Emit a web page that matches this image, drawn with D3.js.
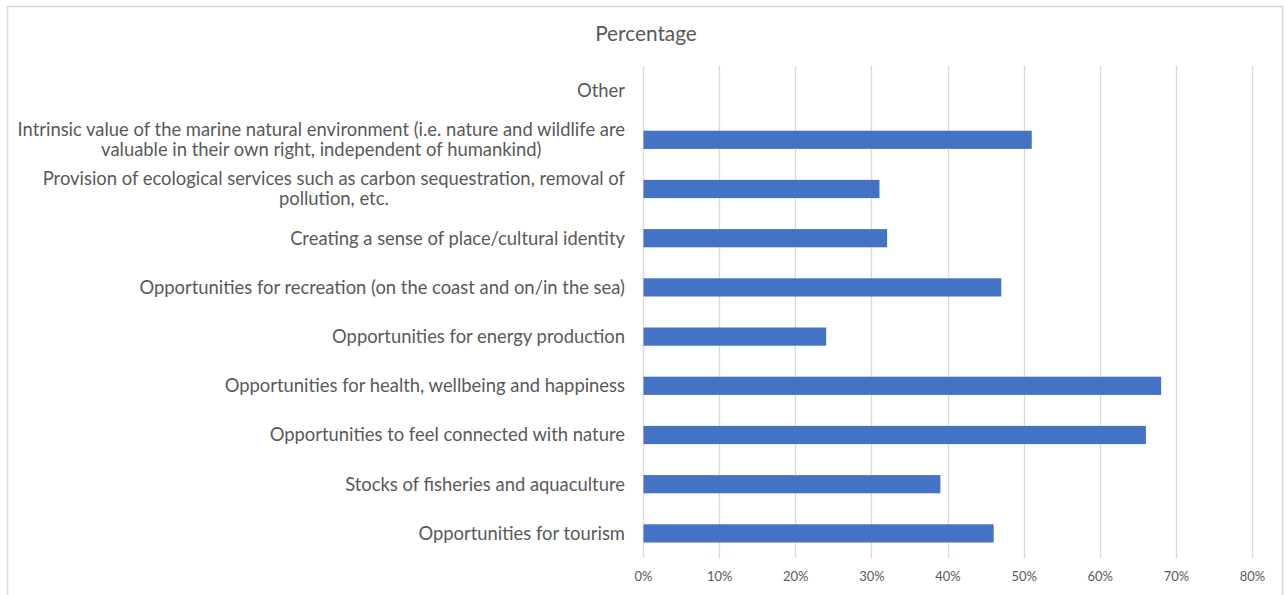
<!DOCTYPE html>
<html>
<head>
<meta charset="utf-8">
<script src="https://cdn.jsdelivr.net/npm/d3@7/dist/d3.min.js"></script>
<style>
  html, body { margin: 0; padding: 0; background: #fff; }
  svg { display: block; }
</style>
</head>
<body>
<svg id="chart" width="1284" height="595"></svg>
<script>
// Categories, listed top to bottom
const categories = [
  "Other",
  "Intrinsic value of the marine natural environment (i.e. nature and wildlife are|valuable in their own right, independent of humankind)",
  "Provision of ecological services such as carbon sequestration, removal of|pollution, etc.",
  "Creating a sense of place/cultural identity",
  "Opportunities for recreation (on the coast and on/in the sea)",
  "Opportunities for energy production",
  "Opportunities for health, wellbeing and happiness",
  "Opportunities to feel connected with nature",
  "Stocks of fisheries and aquaculture",
  "Opportunities for tourism"
];
// Share of respondents (%)
const values = [0, 51, 31, 32, 47, 24, 68, 66, 39, 46];
// Axis ticks (%)
const tickValues = [0, 10, 20, 30, 40, 50, 60, 70, 80];

const svg = d3.select("#chart");
const font = "Lato, 'Open Sans', sans-serif";

// Outer frame
svg.append("rect")
  .attr("x", 7.5).attr("y", 6.5)
  .attr("width", 1275).attr("height", 600)
  .attr("fill", "#fff").attr("stroke", "#d9d9d9").attr("stroke-width", 1.5);

const x = d3.scaleLinear().domain([0, 80]).range([643, 1252]);
const y = d3.scaleBand().domain(categories).range([66, 558]).paddingInner(0.63).paddingOuter(0.315);

// Title
svg.append("text")
  .attr("x", 646).attr("y", 41)
  .attr("text-anchor", "middle")
  .attr("font-family", font).attr("font-size", 20.8)
  .attr("fill", "#595959")
  .text("Percentage");

// Vertical gridlines
svg.append("g").selectAll("line").data(tickValues).join("line")
  .attr("x1", d => Math.round(x(d)) + 0.5).attr("x2", d => Math.round(x(d)) + 0.5)
  .attr("y1", 66).attr("y2", 558)
  .attr("stroke", "#d9d9d9").attr("stroke-width", 1.3);

// X axis tick labels
const xAxis = d3.axisBottom(x).tickValues(tickValues).tickFormat(d => d + "%").tickSize(0).tickPadding(0);
const gx = svg.append("g").attr("transform", "translate(0,572)").call(xAxis);
gx.select(".domain").remove();
gx.selectAll("text")
  .attr("font-family", font).attr("font-size", 13)
  .attr("fill", "#595959");

// Bars
svg.append("g").selectAll("rect").data(categories).join("rect")
  .attr("x", x(0) + 0.5)
  .attr("y", d => y(d))
  .attr("width", (d, i) => x(values[i]) - x(0))
  .attr("height", y.bandwidth())
  .attr("fill", "#4472c4");

// Category labels (wrapped lines centred within a right-aligned block)
const labelRight = 625;
const lineH = 20;
const lg = svg.append("g")
  .attr("font-family", font).attr("font-size", 18.4).attr("fill", "#595959");
categories.forEach(c => {
  const lines = c.split("|");
  const cy = y(c) + y.bandwidth() / 2;
  const texts = lines.map((ln, k) =>
    lg.append("text")
      .attr("y", cy + (k - (lines.length - 1) / 2) * lineH)
      .attr("dy", "0.35em")
      .attr("text-anchor", "middle")
      .text(ln));
  const widths = texts.map(t => t.node().getComputedTextLength());
  const maxW = d3.max(widths);
  texts.forEach(t => t.attr("x", labelRight - maxW / 2));
});
</script>
</body>
</html>
